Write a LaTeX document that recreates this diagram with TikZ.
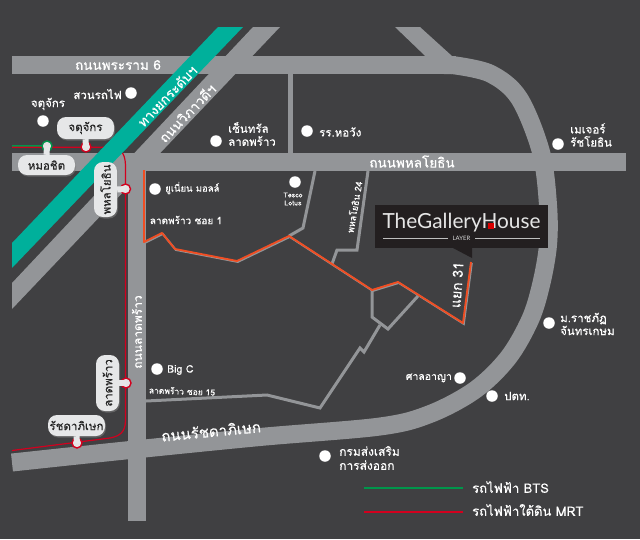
\documentclass[tikz,border=0pt]{standalone}
\usepackage{fontspec}
\setmainfont[Script=Thai,FakeBold=0.25]{Loma}
\newfontfamily\logofont{Lato}
\usetikzlibrary{shadows}
\definecolor{mapbg}{HTML}{404042}
\definecolor{roadgray}{HTML}{939598}
\definecolor{tollteal}{HTML}{00B09B}
\definecolor{mrtred}{HTML}{D2001E}
\definecolor{btsgreen}{HTML}{00964B}
\definecolor{sorange}{HTML}{F04E23}
\definecolor{bubblefill}{HTML}{E6E7E8}
\definecolor{logoblack}{HTML}{231F20}
\begin{document}
\begin{tikzpicture}[x=1pt,y=-1pt,
    soi/.style={roadgray,line width=3pt},
    lane/.style={sorange,line width=1.9pt,line join=round},
    spot/.style={circle,fill=white,minimum size=11.5pt,inner sep=0pt},
    lbl/.style={text=white,font=\fontsize{11.5}{13}\selectfont,align=left,inner sep=0pt},
    roadlbl/.style={text=white,font=\fontsize{13.5}{15}\selectfont,inner sep=0pt},
    stud/.style={circle,draw=mrtred,line width=1.4pt,fill=white!75!roadgray,minimum size=10pt,inner sep=0pt},
    bubble/.style={fill=bubblefill,rounded corners=9pt,text=black!85,font=\fontsize{11.5}{13}\selectfont,inner sep=0pt,
        drop shadow={opacity=.55,shadow xshift=1pt,shadow yshift=-1.5pt}},
    tail/.style={bubblefill,line width=6pt}]
    %mapborder
    \fill [mapbg] (0,0) rectangle (640,539);
    \useasboundingbox (0,0) rectangle (640,539);

    %mainroads
    \fill [roadgray] (12,56) rectangle (456,74);
    \fill [roadgray] (12,153) rectangle (626,171);
    \fill [roadgray] (128,153) rectangle (146,521);
    \fill [roadgray] (253,27) -- (280,27) -- (12,309) -- (12,283) -- cycle;
    \fill [roadgray] (395,27) -- (420,27) -- (452,56) -- (452,74) -- (444,74) -- cycle;
    %ringroad
    \draw [roadgray,line width=18pt] plot [smooth,tension=0.55] coordinates {(12,462.5) (130,450) (260,437) (380,426.5) (430,414) (475,390) (508,358) (530,320) (541,285) (548,245) (548,205) (541,152) (519,98) (490,73.5) (452,65)};

    %minorroads
    \fill [roadgray] (288,74) rectangle (293,153);
    \draw [soi] (315,171) -- (303,228) -- (289,236);
    \draw [soi] (368,171) -- (357,250) -- (337,250) -- (332,264);
    \draw [soi] (146,401) -- (267,395) -- (320,408) -- (360,348) -- (364,352) -- (380,325);
    \draw [soi] (372,290) -- (372,317) -- (388,329) -- (418,296);

    %orangelane
    \draw [roadgray,line width=2pt,xshift=0.8pt,yshift=-0.9pt] (144,242) -- (162,233) -- (175,249) -- (237,261) -- (289,236) -- (372,290) -- (398,282) -- (463,323) -- (471,262);
    \draw [lane] (144,170) -- (144,242) -- (162,233) -- (175,249) -- (237,261) -- (289,236) -- (372,290) -- (398,282) -- (463,323) -- (471,262);

    %mrtline
    \draw [btsgreen,line width=1.2pt] (12,146) -- (47,146);
    \draw [mrtred,line width=1.2pt] (12,147.2) -- (108,147.2) .. controls (120,147.2) and (125,152) .. (125.5,165) -- (125.5,420) .. controls (125.5,432) and (120,436) .. (110,438) -- (12,450.5);

    %tollway
    \fill [tollteal] (218,27) -- (243,27) -- (12,268) -- (12,243) -- cycle;

    %roadlabels
    \node [roadlbl] (rama) at (118,65) {ถนนพระราม 6};
    \node [roadlbl,rotate=46] (toll) at (167,96) {ทางยกระดับฯ};
    \node [roadlbl,rotate=46] (vibha) at (187,113) {ถนนวิภาวดีฯ};
    \node [roadlbl] (phahon) at (412,161.5) {ถนนพหลโยธิน};
    \node [roadlbl,rotate=90,font=\fontsize{12}{14}\selectfont] (ladprao) at (137,332) {ถนนลาดพร้าว};
    \node [roadlbl,rotate=5.5,font=\fontsize{15}{17}\selectfont] (ratchada) at (211,431) {ถนนรัชดาภิเษก};
    \node [lbl,rotate=80,font=\fontsize{9}{11}\selectfont] (phahon24) at (354,207) {พหลโยธิน 24};
    \node [lbl,font=\fontsize{10}{12}\selectfont] (soi1) at (186,220) {ลาดพร้าว ซอย 1};
    \node [lbl,rotate=-2,font=\fontsize{8.5}{10}\selectfont] (soi15) at (182,391) {ลาดพร้าว ซอย 15};
    \node [lbl,rotate=86,font=\fontsize{14}{16}\selectfont] (yaek) at (457,285) {แยก 31};

    %places
    \node [spot] (parkdot) at (131,93) {};
    \node [lbl,anchor=east] (park) at (122,94) {สวนรถไฟ};
    \node [spot] (chatudot) at (43,121) {};
    \node [lbl] (chatu) at (48,104) {จตุจักร};
    \node [spot] (centraldot) at (216,141) {};
    \node [lbl,anchor=west] (central) at (228,134) {เซ็นทรัล\\ลาดพร้าว};
    \node [spot] (hwdot) at (307,131) {};
    \node [lbl,anchor=west] (hw) at (319,132) {รร.หอวัง};
    \node [spot] (majordot) at (558,144) {};
    \node [lbl,anchor=west] (major) at (570,135) {เมเจอร์\\รัชโยธิน};
    \node [spot] (uniondot) at (155,189) {};
    \node [lbl,anchor=west,font=\fontsize{9.5}{11}\selectfont] (union) at (165,188) {ยูเนี่ยน มอลล์};
    \node [spot] (tescodot) at (295,182) {};
    \node [lbl,align=center,font=\fontsize{7}{8}\selectfont] (tesco) at (293,199) {Tesco\\Lotus};
    \node [spot] (rajdot) at (549,323) {};
    \node [lbl,anchor=west] (raj) at (560,324) {ม.ราชภัฏ\\จันทรเกษม};
    \node [spot] (courtdot) at (460,378) {};
    \node [lbl,anchor=east,font=\fontsize{10.5}{12}\selectfont] (court) at (452,378) {ศาลอาญา};
    \node [spot] (pttdot) at (492,396) {};
    \node [lbl,anchor=west] (ptt) at (504,396) {ปตท.};
    \node [spot] (bigcdot) at (157,369) {};
    \node [lbl,anchor=west,font=\fontsize{10.5}{12}\selectfont] (bigc) at (167,370) {Big C};
    \node [spot] (depdot) at (325,456) {};
    \node [lbl,anchor=west,font=\fontsize{12}{14}\selectfont] (dep) at (339,458) {กรมส่งเสริม\\การส่งออก};

    %stations
    \node [stud] (jjs) at (86,147) {};
    \node [bubble,minimum width=57pt,minimum height=22pt] (jj) at (85.5,128) {จตุจักร};
    \draw [tail] (jj.south) -- (jjs.center);
    \node [stud,draw=btsgreen] (mcs) at (47,146) {};
    \node [bubble,minimum width=57pt,minimum height=20pt] (mc) at (46.5,165) {หมอชิต};
    \draw [tail] (mc.north) -- (mcs.center);
    \node [stud] (phs) at (125.5,189) {};
    \node [bubble,rotate=90,minimum width=55pt,minimum height=23pt] (ph) at (105.5,189.5) {พหลโยธิน};
    \draw [tail] (ph.south) -- (phs.center);
    \node [stud] (lps) at (126,383) {};
    \node [bubble,rotate=90,minimum width=56pt,minimum height=23pt] (lp) at (107.5,383) {ลาดพร้าว};
    \draw [tail] (lp.south) -- (lps.center);
    \node [stud] (rds) at (77,443) {};
    \node [bubble,minimum width=57pt,minimum height=21pt] (rd) at (76.5,425.5) {รัชดาภิเษก};
    \draw [tail] (rd.south) -- (rds.center);

    %logo
    \fill [logoblack] (375,205) rectangle (548,248);
    \fill [logoblack] (453,248) -- (472,248) -- (472,258) -- cycle;
    \node [inner sep=0pt,text=white!90!black,font=\logofont\fontsize{20.8}{24}\selectfont] (gallery) at (461.5,223) {TheGalleryHouse};
    \fill [red!85!black] (488,223) rectangle (493.5,229);
    \node [inner sep=0pt,text=white!85!black,font=\logofont\fontsize{6}{7}\selectfont] (layer) at (461.5,238) {LAYER};
    \draw [white!75!black,line width=0.9pt] (383,238) -- (448,238) (475,238) -- (540,238);

    %legend
    \coordinate (btsa) at (364,488);
    \coordinate (btsb) at (463,488);
    \coordinate (mrta) at (364,512);
    \coordinate (mrtb) at (463,512);
    \draw [btsgreen,line width=1.5pt] (btsa) -- (btsb);
    \draw [mrtred,line width=1.5pt] (mrta) -- (mrtb);
    \node [lbl,anchor=west,font=\fontsize{13}{15}\selectfont] (btslbl) at (472,487) {รถไฟฟ้า BTS};
    \node [lbl,anchor=west,font=\fontsize{13}{15}\selectfont] (mrtlbl) at (472,510) {รถไฟฟ้าใต้ดิน MRT};
\end{tikzpicture}
\end{document}
